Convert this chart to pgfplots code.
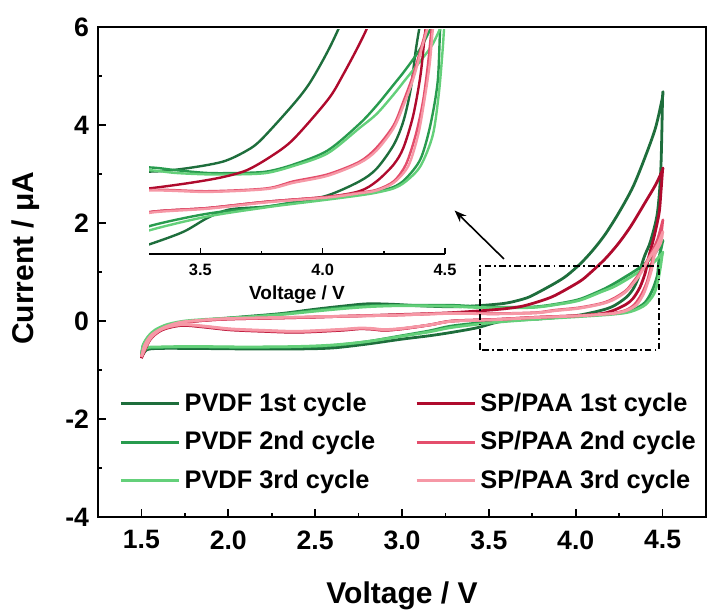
\documentclass[border=0pt]{standalone}
\usepackage{fontspec}
\setmainfont{Liberation Sans}
\usepackage{pgfplots}
\pgfplotsset{compat=1.18}
\usepackage{pgfplotstable}
\usetikzlibrary{arrows.meta}

\definecolor{pv1}{RGB}{30,110,60}
\definecolor{pv2}{RGB}{40,155,78}
\definecolor{pv3}{RGB}{100,208,122}
\definecolor{sp1}{RGB}{175,10,45}
\definecolor{sp2}{RGB}{228,78,108}
\definecolor{sp3}{RGB}{246,152,166}

\pgfplotstableread{
x y
1.50 -0.74
1.51 -0.52
1.54 -0.34
1.58 -0.22
1.65 -0.10
1.75 -0.02
1.90 0.03
2.10 0.09
2.30 0.15
2.50 0.24
2.65 0.30
2.80 0.35
2.95 0.34
3.10 0.31
3.29 0.29
3.43 0.31
3.59 0.36
3.69 0.44
3.75 0.52
3.88 0.77
3.95 0.93
4.03 1.18
4.10 1.45
4.17 1.77
4.25 2.22
4.33 2.74
4.40 3.35
4.46 3.95
4.50 4.57
4.50 4.57
4.49 3.10
4.47 2.20
4.43 1.62
4.40 1.36
4.38 1.15
4.36 0.88
4.33 0.65
4.29 0.48
4.22 0.31
4.15 0.22
4.02 0.12
3.88 0.07
3.77 0.04
3.62 0.02
3.53 -0.04
3.43 -0.14
3.29 -0.23
3.16 -0.30
3.00 -0.37
2.80 -0.47
2.60 -0.55
2.40 -0.57
2.10 -0.57
1.80 -0.56
1.60 -0.56
1.53 -0.59
1.50 -0.74
}\PVa

\pgfplotstableread{
x y
1.50 -0.72
1.51 -0.50
1.54 -0.33
1.58 -0.20
1.65 -0.09
1.75 -0.02
1.90 0.03
2.10 0.08
2.30 0.14
2.50 0.22
2.65 0.27
2.80 0.31
2.95 0.32
3.10 0.32
3.29 0.32
3.40 0.30
3.53 0.28
3.65 0.28
3.77 0.29
3.88 0.34
4.02 0.44
4.15 0.63
4.22 0.76
4.29 0.91
4.34 1.02
4.40 1.17
4.45 1.35
4.50 1.62
4.50 1.62
4.49 1.45
4.48 1.30
4.47 0.93
4.44 0.62
4.40 0.38
4.34 0.24
4.29 0.18
4.22 0.15
4.15 0.13
4.02 0.10
3.88 0.07
3.77 0.04
3.53 -0.01
3.29 -0.10
3.16 -0.20
3.00 -0.30
2.80 -0.42
2.60 -0.50
2.40 -0.53
2.10 -0.54
1.80 -0.53
1.60 -0.54
1.53 -0.56
1.50 -0.72
}\PVb

\pgfplotstableread{
x y
1.50 -0.72
1.51 -0.49
1.54 -0.31
1.58 -0.18
1.65 -0.07
1.75 0.00
1.90 0.04
2.10 0.08
2.30 0.13
2.50 0.20
2.65 0.25
2.80 0.29
2.95 0.31
3.10 0.31
3.29 0.30
3.40 0.28
3.53 0.27
3.65 0.27
3.77 0.28
3.88 0.33
4.02 0.42
4.15 0.60
4.22 0.70
4.29 0.84
4.34 0.95
4.40 1.08
4.45 1.20
4.50 1.39
4.50 1.39
4.495 1.28
4.49 1.15
4.475 0.85
4.45 0.55
4.40 0.33
4.34 0.22
4.29 0.17
4.22 0.14
4.15 0.12
4.02 0.09
3.88 0.06
3.77 0.035
3.53 -0.03
3.29 -0.13
3.16 -0.22
3.00 -0.31
2.80 -0.42
2.60 -0.49
2.40 -0.52
2.10 -0.53
1.80 -0.52
1.60 -0.53
1.53 -0.55
1.50 -0.72
}\PVc

\pgfplotstableread{
x y
1.50 -0.76
1.52 -0.50
1.56 -0.30
1.63 -0.15
1.72 -0.05
1.82 0.00
2.00 0.04
2.40 0.07
2.70 0.10
2.97 0.13
3.15 0.15
3.29 0.17
3.46 0.21
3.59 0.25
3.69 0.30
3.79 0.40
3.88 0.52
4.02 0.80
4.08 0.97
4.17 1.27
4.25 1.60
4.32 1.95
4.40 2.42
4.46 2.78
4.50 3.08
4.50 3.08
4.49 2.60
4.48 2.20
4.45 1.70
4.42 1.30
4.40 0.98
4.37 0.69
4.33 0.46
4.29 0.34
4.22 0.22
4.15 0.15
4.02 0.11
3.77 0.075
3.53 0.03
3.29 0.00
3.16 -0.08
3.00 -0.16
2.90 -0.19
2.82 -0.165
2.75 -0.16
2.65 -0.19
2.40 -0.23
2.20 -0.21
2.01 -0.18
1.85 -0.12
1.73 -0.09
1.62 -0.18
1.55 -0.38
1.50 -0.76
}\SPa

\pgfplotstableread{
x y
1.50 -0.74
1.52 -0.49
1.56 -0.29
1.63 -0.14
1.72 -0.04
1.82 0.00
2.00 0.04
2.40 0.07
2.70 0.10
2.97 0.12
3.29 0.16
3.53 0.15
3.77 0.17
3.88 0.22
4.02 0.27
4.15 0.36
4.22 0.46
4.29 0.62
4.33 0.79
4.37 0.98
4.41 1.22
4.43 1.35
4.47 1.65
4.50 2.03
4.50 2.03
4.49 1.75
4.46 1.45
4.445 1.30
4.43 1.05
4.41 0.79
4.38 0.55
4.34 0.34
4.29 0.22
4.22 0.16
4.15 0.14
4.02 0.11
3.77 0.075
3.53 0.03
3.29 0.00
3.16 -0.08
3.00 -0.16
2.90 -0.185
2.82 -0.16
2.75 -0.155
2.65 -0.18
2.40 -0.22
2.20 -0.20
2.01 -0.17
1.85 -0.11
1.73 -0.08
1.62 -0.17
1.55 -0.37
1.50 -0.74
}\SPb

\pgfplotstableread{
x y
1.50 -0.73
1.52 -0.48
1.56 -0.28
1.63 -0.13
1.72 -0.03
1.82 0.01
2.00 0.05
2.40 0.08
2.70 0.10
2.97 0.12
3.29 0.155
3.53 0.145
3.77 0.165
3.88 0.21
4.02 0.26
4.15 0.35
4.22 0.44
4.29 0.60
4.33 0.76
4.37 0.95
4.41 1.20
4.43 1.32
4.47 1.55
4.50 1.80
4.50 1.80
4.49 1.60
4.46 1.40
4.45 1.30
4.437 1.05
4.415 0.79
4.39 0.55
4.35 0.33
4.29 0.21
4.22 0.155
4.15 0.135
4.02 0.105
3.77 0.07
3.53 0.025
3.29 -0.005
3.16 -0.08
3.00 -0.15
2.90 -0.175
2.82 -0.15
2.75 -0.145
2.65 -0.17
2.40 -0.21
2.20 -0.19
2.01 -0.16
1.85 -0.10
1.73 -0.07
1.62 -0.16
1.55 -0.36
1.50 -0.73
}\SPc

\newcommand{\cvplots}[1]{%
  \addplot[pv1, line width=#1, smooth, tension=0.5, line join=round] table {\PVa};
  \addplot[pv2, line width=#1, smooth, tension=0.5, line join=round] table {\PVb};
  \addplot[pv3, line width=#1, smooth, tension=0.5, line join=round] table {\PVc};
  \addplot[sp1, line width=#1, smooth, tension=0.5, line join=round] table {\SPa};
  \addplot[sp2, line width=#1, smooth, tension=0.5, line join=round] table {\SPb};
  \addplot[sp3, line width=#1, smooth, tension=0.5, line join=round] table {\SPc};
}

\begin{document}
\begin{tikzpicture}
\useasboundingbox (-49pt,-46.5pt) rectangle (304.5pt,258.5pt);
\begin{axis}[
  at={(0pt,0pt)}, anchor=south west,
  scale only axis, width=304pt, height=245pt,
  xmin=1.25, xmax=4.75, ymin=-4, ymax=6,
  xtick={1.5,2,2.5,3,3.5,4,4.5}, ytick={-4,-2,0,2,4,6},
  minor x tick num=1, minor y tick num=1,
  xtick pos=bottom, ytick pos=left, tick align=inside,
  major tick length=4pt, minor tick length=2pt,
  every tick/.style={line width=0.9pt, black},
  axis line style={line width=1pt},
  /pgf/number format/assume math mode=true,
  tick label style={font=\fontsize{13.3}{15}\selectfont\bfseries},
  xticklabel style={yshift=-3.2pt, /pgf/number format/.cd, fixed, fixed zerofill, precision=1, /tikz/.cd},
  yticklabel style={xshift=-1pt},
  xlabel={Voltage / V},
  xlabel style={at={(axis description cs:0.5,0)}, anchor=north, inner sep=0pt, yshift=-32.3pt, font=\fontsize{15}{17}\selectfont\bfseries},
  ylabel={Current / μA},
  ylabel style={at={(axis description cs:-0.0954,0.528)}, anchor=south, inner sep=0pt, font=\fontsize{15}{17}\selectfont\bfseries},
  legend entries={PVDF 1st cycle, PVDF 2nd cycle, PVDF 3rd cycle, SP/PAA 1st cycle, SP/PAA 2nd cycle, SP/PAA 3rd cycle},
  legend columns=3, transpose legend,
  legend cell align=left,
  legend image code/.code={\draw[#1, line width=1.6pt] (0pt,0pt) -- (29pt,0pt);},
  legend style={draw=none, fill=none, at={(axis description cs:0.0345,0.262)}, anchor=north west, inner sep=0pt, row sep=4.5pt,
    font=\fontsize{12.7}{14}\selectfont\bfseries,
    /tikz/every even column/.append style={column sep=18pt}},
]
\cvplots{1.4pt}
\draw[line width=0.9pt, dash pattern=on 3.3pt off 1.6pt on 0.9pt off 1.6pt] (axis cs:3.45,-0.59) rectangle (axis cs:4.48,1.13);
\draw[line width=0.8pt, -{Stealth[length=6pt,width=4.5pt]}] (axis cs:3.587,1.266) -- (axis cs:3.303,2.254);
\end{axis}

\begin{axis}[
  at={(25.5pt,131.35pt)}, anchor=south west,
  scale only axis, width=148pt, height=112.15pt,
  xmin=3.29, xmax=4.5, ymin=-0.3, ymax=1.3,
  axis x line=bottom, axis y line=none, ytick=\empty,
  axis line style={-, line width=1pt},
  xtick={3.5,4.0,4.5}, minor xtick={3.75,4.25},
  tick align=inside, major tick length=3pt, minor tick length=1.5pt,
  every tick/.style={line width=0.8pt, black},
  /pgf/number format/assume math mode=true,
  tick label style={font=\fontsize{8.2}{10}\selectfont\bfseries},
  xticklabel style={yshift=-1.5pt, /pgf/number format/.cd, fixed, fixed zerofill, precision=1, /tikz/.cd},
  xlabel={Voltage / V},
  xlabel style={at={(axis description cs:0.5,0)}, anchor=north, inner sep=0pt, yshift=-15.5pt, font=\fontsize{9.5}{11}\selectfont\bfseries},
]
\cvplots{1.2pt}
\end{axis}
\end{tikzpicture}
\end{document}
